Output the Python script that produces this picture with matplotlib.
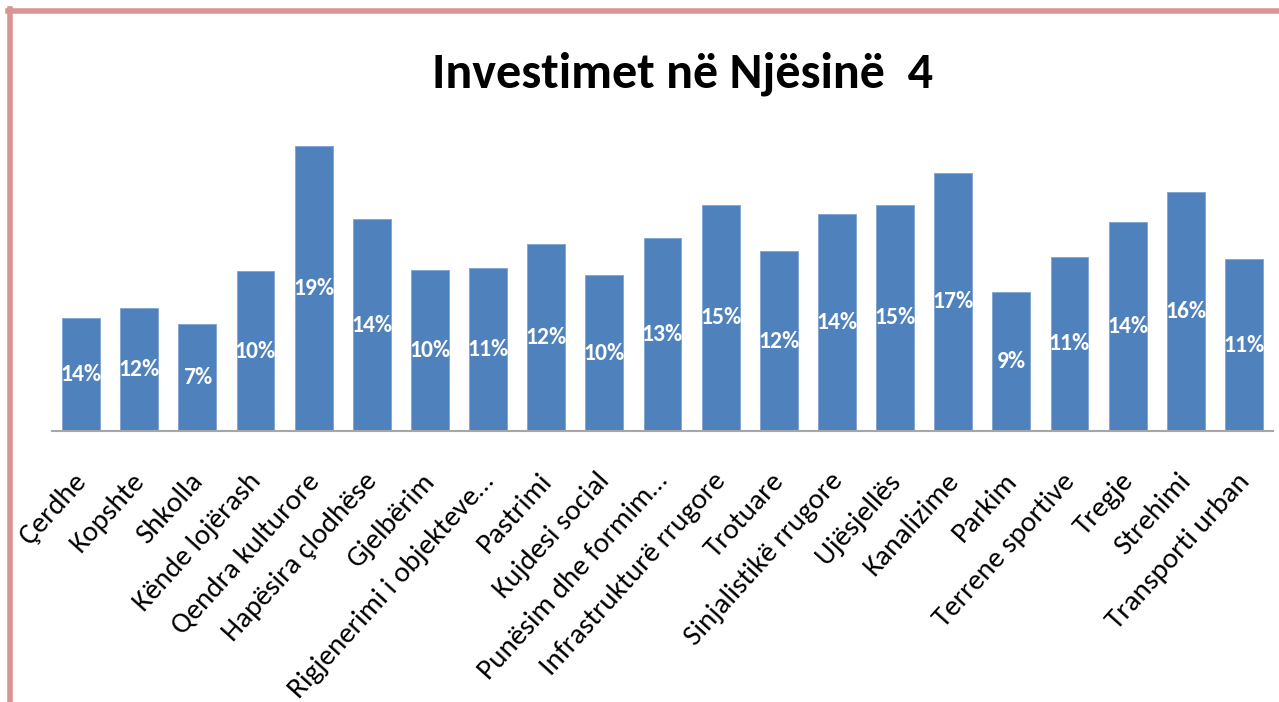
import matplotlib
matplotlib.use("Agg")
import matplotlib.pyplot as plt
from matplotlib.lines import Line2D
from matplotlib.transforms import ScaledTranslation

categories = ["Çerdhe", "Kopshte", "Shkolla", "Kënde lojërash", "Qendra kulturore",
              "Hapësira çlodhëse", "Gjelbërim", "Rigjenerimi i objekteve…", "Pastrimi",
              "Kujdesi social", "Punësim dhe formim…", "Infrastrukturë rrugore", "Trotuare",
              "Sinjalistikë rrugore", "Ujësjellës", "Kanalizime", "Parkim",
              "Terrene sportive", "Tregje", "Strehimi", "Transporti urban"]
heights = [113, 123, 107, 160, 285, 212, 161, 163, 187, 156, 193,
           226, 180, 217, 226, 258, 139, 174, 209, 239, 172]
labels = ["14%", "12%", "7%", "10%", "19%", "14%", "10%", "11%", "12%", "10%", "13%",
          "15%", "12%", "14%", "15%", "17%", "9%", "11%", "14%", "16%", "11%"]

font = ["Carlito", "DejaVu Sans"]

fig = plt.figure(figsize=(12.79, 7.02), dpi=100)
ax = fig.add_axes([52 / 1279, 1 - 431 / 702, 1221 / 1279, 301 / 702])

x = range(len(categories))
bars = ax.bar(x, heights, width=0.65, color="#4f81bd", edgecolor="#7ea3d2", linewidth=0.6)
for b, lab in zip(bars, labels):
    ax.text(b.get_x() + b.get_width() / 2, b.get_height() / 2, lab,
            ha="center", va="center", color="white", fontsize=17, fontweight="bold",
            family=font)

ax.set_xlim(-0.5, len(categories) - 0.5)
ax.set_ylim(0, 301)
ax.set_xticks(list(x))
ax.set_xticklabels(categories, rotation=48, ha="right", va="center", rotation_mode="anchor",
                   fontsize=21, family=font)
ax.tick_params(axis="x", length=0, pad=33)
shift = ScaledTranslation(1 / 100, 0, fig.dpi_scale_trans)
for t in ax.get_xticklabels():
    t.set_transform(t.get_transform() + shift)
ax.set_yticks([])
for s in ["top", "right", "left"]:
    ax.spines[s].set_visible(False)
ax.spines["bottom"].set_color("#a6a6a6")
ax.spines["bottom"].set_linewidth(1.5)

title = fig.text(682 / 1279, 1 - 88 / 702, "Investimet në Njësinë  4", ha="center",
                 va="baseline", fontsize=34, fontweight="bold", family=font)
# fit the title to the width it has in the picture
fig.canvas.draw()
w = title.get_window_extent().width
title.set_fontsize(34 * 501 / w)

# pink frame at top and left
fig.add_artist(Line2D([8 / 1279, 1], [1 - 11 / 702, 1 - 11 / 702], color="#d99594",
                      linewidth=4, transform=fig.transFigure))
fig.add_artist(Line2D([10 / 1279, 10 / 1279], [0, 1 - 9 / 702], color="#d99594",
                      linewidth=4, transform=fig.transFigure))

fig.savefig("out.png", dpi=100)
